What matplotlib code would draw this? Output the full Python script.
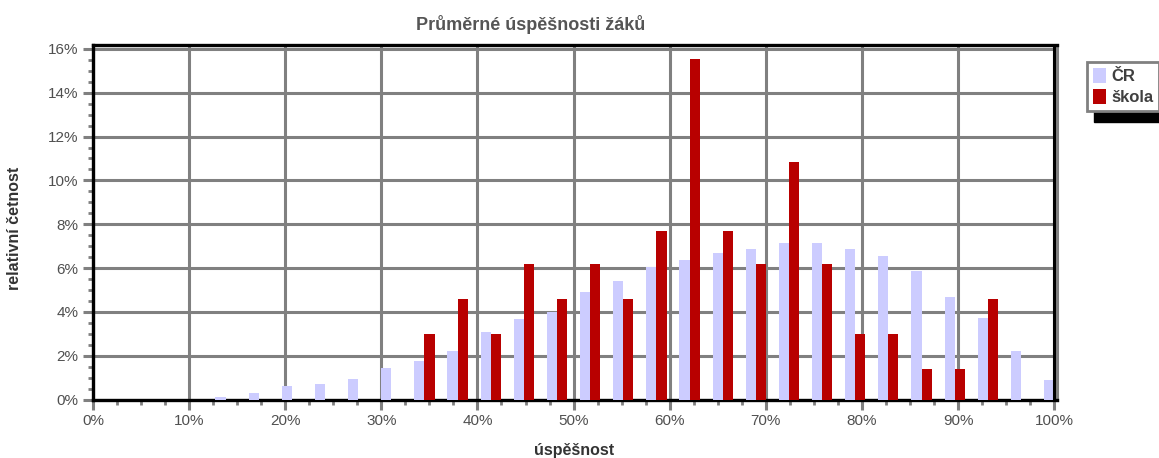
import matplotlib
matplotlib.use('Agg')
import matplotlib.pyplot as plt
from matplotlib.patches import Patch, Rectangle
import numpy as np

#------------------------data--------------------------
# 30 intervalu uspesnosti, hodnoty v procentech
kategorie = list(range(30))
cr = [0, 0, 0, 0, 0.1, 0.28, 0.6, 0.73, 0.92, 1.42,
      1.74, 2.2, 3.07, 3.67, 3.99, 4.89, 5.41, 6.06, 6.36, 6.67,
      6.85, 7.15, 7.15, 6.85, 6.54, 5.88, 4.7, 3.72, 2.22, 0.91]
skola = [0, 0, 0, 0, 0, 0, 0, 0, 0, 0,
         3.0, 4.6, 3.0, 6.2, 4.6, 6.2, 4.6, 7.7, 15.55, 7.7,
         6.2, 10.85, 6.2, 3.0, 3.0, 1.4, 1.4, 4.6, 0, 0]
serie = ['ČR', 'škola']
barvy = ['#CCCCFF', '#B80000']
x_hodnoty = [0, 10, 20, 30, 40, 50, 60, 70, 80, 90, 100]
x_popisky = ['0%', '10%', '20%', '30%', '40%', '50%', '60%', '70%', '80%', '90%', '100%']
y_hodnoty = [0, 2, 4, 6, 8, 10, 12, 14, 16]
y_popisky = ['0%', '2%', '4%', '6%', '8%', '10%', '12%', '14%', '16%']

plt.rcParams['font.family'] = ['Liberation Sans', 'DejaVu Sans']

W, H = 1159, 458
fig = plt.figure(figsize=(W / 100, H / 100), dpi=100)
ax = fig.add_axes([93 / W, 1 - 399.5 / H, (1057 - 93) / W, (399.5 - 45) / H])

# stred kategorie k lezi na k*100/29 %
x = np.array(kategorie) * 100 / 29
sirka = 1.05
ax.bar(x - sirka / 2, cr, sirka, color=barvy[0], zorder=3)
ax.bar(x + sirka / 2, skola, sirka, color=barvy[1], zorder=3)

ax.set_xlim(0, 100.3)
ax.set_ylim(0, 16.18)
ax.set_axisbelow(True)
ax.grid(True, which='major', color='#808080', linewidth=2.2)
ax.axvline(100, color='black', linewidth=2.2, zorder=4)

for s in ['left', 'bottom', 'top']:
    ax.spines[s].set_color('black')
    ax.spines[s].set_linewidth(2.4)
ax.spines['right'].set_color('#808080')
ax.spines['right'].set_linewidth(2.2)

ax.set_xticks(x_hodnoty)
ax.set_xticklabels(x_popisky)
ax.set_yticks(y_hodnoty)
ax.set_yticklabels(y_popisky)
ax.set_xticks(np.arange(0, 100.1, 2.5), minor=True)
ax.set_yticks(np.arange(0, 16.1, 0.5), minor=True)
ax.tick_params(which='major', color='#808080', width=2.2, length=7.5,
               labelsize=11, labelcolor='#505050', pad=3)
ax.tick_params(which='minor', color='#808080', width=2, length=3.5)
ax.tick_params(top=False, right=False, which='both')

fig.text(531 / W, 1 - 25 / H, 'Průměrné úspěšnosti žáků', ha='center', va='center',
         fontsize=13, fontweight='bold', color='#555555')
fig.text(15 / W, 1 - 228 / H, 'relativní četnost', rotation=90, ha='center', va='center',
         fontsize=11.5, fontweight='bold', color='#333333')
fig.text(574 / W, 1 - 450 / H, 'úspěšnost', ha='center', va='center',
         fontsize=11.5, fontweight='bold', color='#333333')

# legenda s cernym stinem
fig.patches.append(Rectangle((1094 / W, 1 - 122 / H), 70 / W, 12 / H,
                             transform=fig.transFigure, color='black', zorder=1))
handles = [Patch(facecolor=barvy[i], edgecolor='none') for i in range(2)]
leg = fig.legend(handles, serie, loc='upper left', bbox_to_anchor=(1087 / W, 1 - 62 / H),
                 fancybox=False, framealpha=1, edgecolor='#808080', borderpad=0.35,
                 handlelength=0.8, handleheight=1.0, handletextpad=0.3, labelspacing=0.3,
                 borderaxespad=0, prop={'size': 12, 'weight': 'bold'})
leg.get_frame().set_linewidth(2)
for t in leg.get_texts():
    t.set_color('#404040')

fig.savefig('out.png', dpi=100)
